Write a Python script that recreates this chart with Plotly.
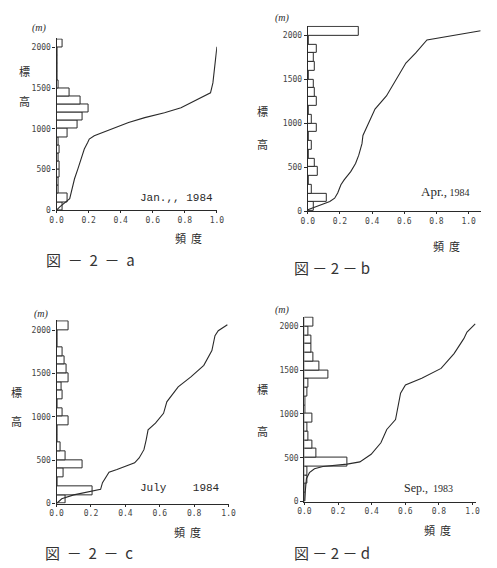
import plotly.graph_objects as go

W, H = 497, 568

# ---------------- data ----------------
bin_left = list(range(0, 2100, 100))          # 100 m elevation bins
bin_center = [b + 50 for b in bin_left]

hist_a = [0.04, 0.07, 0.01, 0.012, 0.02, 0.02, 0.012, 0.02, 0.012, 0.07, 0.13,
          0.16, 0.2, 0.15, 0.08, 0.01, 0.008, 0.008, 0.008, 0.006, 0.035]
hist_b = [0.035, 0.12, 0.025, 0.008, 0.06, 0.045, 0.008, 0.025, 0.008, 0.055, 0.025,
          0.008, 0.055, 0.045, 0.035, 0.008, 0.045, 0.035, 0.055, 0.008, 0.32]
hist_c = [0.05, 0.21, 0.004, 0.043, 0.15, 0.052, 0.024, 0.005, 0.003, 0.067, 0.037,
          0.003, 0.037, 0.03, 0.071, 0.058, 0.047, 0.037, 0.005, 0.003, 0.067]
hist_d = [0.005, 0.008, 0.015, 0.02, 0.256, 0.073, 0.048, 0.025, 0.015, 0.048, 0.005,
          0.005, 0.02, 0.025, 0.145, 0.087, 0.054, 0.04, 0.044, 0.025, 0.054]

cum_a_x = [0, 0.02, 0.082, 0.092, 0.102, 0.112, 0.133, 0.153, 0.173, 0.194, 0.204, 0.235,
           0.286, 0.367, 0.449, 0.55, 0.673, 0.776, 0.857, 0.93, 0.96, 0.975, 0.986, 0.996, 1.0]
cum_a_y = [0, 41, 142, 224, 305, 386, 508, 630, 752, 833, 874, 915,
           955, 1016, 1077, 1138, 1199, 1260, 1341, 1423, 1443, 1565, 1768, 1910, 2010]

cum_b_x = [0.0, 0.036, 0.086, 0.137, 0.167, 0.186, 0.206, 0.226, 0.267, 0.297, 0.317,
           0.337, 0.343, 0.378, 0.398, 0.418, 0.489, 0.57, 0.61, 0.67, 0.741, 1.075]
cum_b_y = [15, 42, 71, 110, 147, 206, 300, 356, 450, 544, 638,
           769, 863, 994, 1088, 1163, 1313, 1557, 1688, 1800, 1951, 2056]

cum_c_x = [0, 0.03, 0.1, 0.2, 0.221, 0.256, 0.267, 0.305, 0.351, 0.407, 0.454, 0.48, 0.508,
           0.521, 0.532, 0.575, 0.622, 0.641, 0.707, 0.781, 0.856, 0.903, 0.921, 0.94, 0.993]
cum_c_y = [0, 55, 100, 140, 156, 164, 240, 362, 393, 431, 469, 526, 621,
           735, 850, 926, 1040, 1173, 1345, 1460, 1593, 1764, 1935, 1992, 2061]

cum_d_x = [0, 0.005, 0.012, 0.03, 0.06, 0.11, 0.18, 0.254, 0.33, 0.397, 0.455, 0.49,
           0.542, 0.556, 0.572, 0.601, 0.698, 0.813, 0.89, 0.948, 0.967, 1.016]
cum_d_y = [0, 150, 260, 330, 375, 400, 415, 427, 453, 540, 671, 823,
           936, 1087, 1237, 1332, 1407, 1520, 1690, 1860, 1936, 2030]

x_tickvals = [0, 0.2, 0.4, 0.6, 0.8, 1.0]
x_ticktext = ["0.0", "0.2", "0.4", "0.6", "0.8", "1.0"]
y_tickvals = [0, 500, 1000, 1500, 2000]
y_ticktext = ["0", "500", "1000", "1500", "2000"]

month_labels = ["Jan.,, 1984", "Apr., 1984", "July    1984", "Sep., 1983"]
captions = ["図  －  2  －  a", "図 － 2 － b", "図  －  2  －  c", "図 － 2 － d"]

# ---------------- layout helpers ----------------
def px(x):
    return x / W

def py(y):
    return 1 - y / H

INK = "#2a2a2a"
GRAY = "#444444"
YMAX = 2112

# panel geometry in pixels: x of 0, x of axis end, x-range max, y px of 0 m and 2000 m
panels = [
    dict(x0=51, x1=216, xr=1.0, yb=212, y2k=48),
    dict(x0=309.5, x1=487.4, xr=1.075, yb=213, y2k=36),
    dict(x0=51, x1=228, xr=1.0, yb=508, y2k=333),
    dict(x0=306, x1=482.5, xr=1.02, yb=506, y2k=329.3),
]
hists = [hist_a, hist_b, hist_c, hist_d]
curves = [(cum_a_x, cum_a_y), (cum_b_x, cum_b_y), (cum_c_x, cum_c_y), (cum_d_x, cum_d_y)]

fig = go.Figure()
layout = dict(width=W, height=H, margin=dict(l=0, r=0, t=0, b=0),
              paper_bgcolor="white", plot_bgcolor="white", showlegend=False,
              bargap=0, annotations=[])

for i, (p, h, (cx, cy)) in enumerate(zip(panels, hists, curves)):
    n = "" if i == 0 else str(i + 1)
    xa, ya = "x" + n, "y" + n
    yt = p["yb"] - (p["yb"] - p["y2k"]) * YMAX / 2000
    fig.add_trace(go.Bar(x=h, y=bin_center, width=100, orientation="h",
                         marker=dict(color="white", line=dict(color=INK, width=1)),
                         xaxis=xa, yaxis=ya, hoverinfo="skip"))
    fig.add_trace(go.Scatter(x=cx, y=cy, mode="lines",
                             line=dict(color=INK, width=1.1),
                             xaxis=xa, yaxis=ya))
    layout["xaxis" + n] = dict(
        domain=[px(p["x0"]), px(p["x1"])], range=[0, p["xr"]], anchor=ya,
        showgrid=False, zeroline=False, showline=True, linecolor=INK, linewidth=1.2,
        tickvals=x_tickvals, ticktext=x_ticktext, ticks="outside", ticklen=2,
        tickcolor=INK, tickfont=dict(family="DejaVu Sans Mono", size=8, color=GRAY))
    layout["yaxis" + n] = dict(
        domain=[py(p["yb"]), py(yt)], range=[0, YMAX], anchor=xa,
        showgrid=False, zeroline=False, showline=True, linecolor=INK, linewidth=1.2,
        tickvals=y_tickvals, ticktext=y_ticktext, ticks="outside", ticklen=3,
        tickcolor=INK, tickfont=dict(family="DejaVu Sans Mono", size=8, color=GRAY))

ann = layout["annotations"]

def add_text(x, y, text, size, family="Noto Sans CJK JP", xanchor="center", color=INK, **kw):
    ann.append(dict(x=px(x), y=py(y), xref="paper", yref="paper", text=text,
                    showarrow=False, xanchor=xanchor, yanchor="middle",
                    font=dict(family=family, size=size, color=color), **kw))

# (m) unit labels
for (x, y) in [(33, 28), (283, 18), (35, 317), (283, 313)]:
    add_text(x, y, "<i>(m)</i>", 10, family="Liberation Serif")

# vertical 標 / 高 labels
for (x, y1, y2) in [(18, 72, 102), (263, 112, 145), (10, 395, 425), (263, 392, 435)]:
    add_text(x, y1, "標", 11)
    add_text(x, y2, "高", 11)

# 頻 度 labels
for (x, y) in [(187, 240), (452, 248), (186, 537), (443, 535)]:
    add_text(x, y, "頻  度", 11)

# month / year annotations
add_text(214, 200, month_labels[0], 11, family="Liberation Mono", xanchor="right")
add_text(478, 193, "Apr.,<span style='font-size:10px'> 1984</span>", 13,
         family="Liberation Serif", xanchor="right")
add_text(221, 492, month_labels[2], 11, family="Liberation Mono", xanchor="right")
add_text(461, 492, "Sep.,<span style='font-size:10px'>  1983</span>", 12,
         family="Liberation Serif", xanchor="right")

# figure captions
for (x, y, t) in [(86, 262, captions[0]), (334, 270, captions[1]),
                  (84, 557, captions[2]), (334, 557, captions[3])]:
    add_text(x, y, t, 15, color="#333333")

fig.update_layout(**layout)
fig.write_html("out.html")
